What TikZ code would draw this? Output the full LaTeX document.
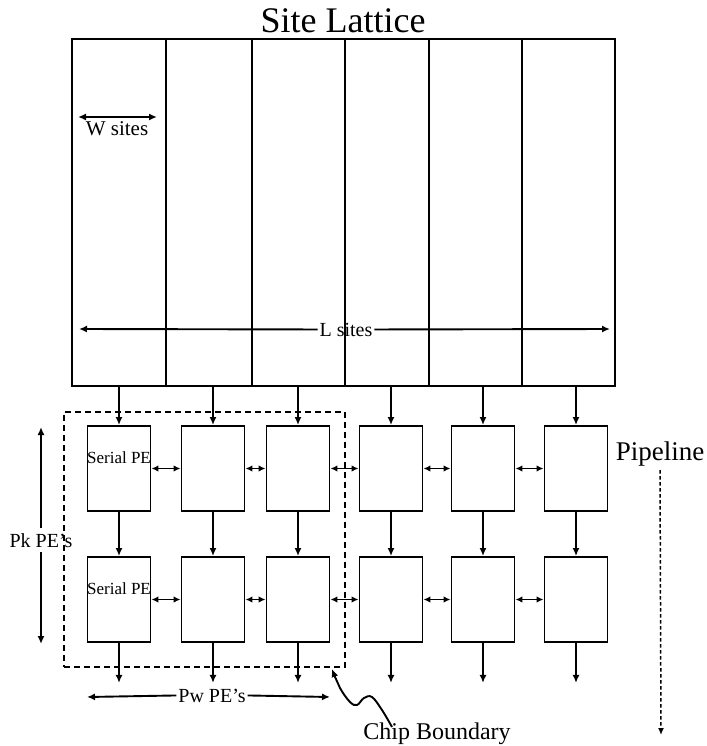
\documentclass[tikz,border=0pt]{standalone}
\usepackage{fontspec}
\setmainfont{Liberation Serif}
\usetikzlibrary{arrows.meta, positioning}

\begin{document}
\begin{tikzpicture}[x=1pt, y=-1pt, line width=1.9pt,
  >={Latex[length=8pt,width=7pt]},
  pebox/.style={draw, minimum width=63pt, minimum height=85pt, inner sep=0pt},
  lbl/.style={font=\fontsize{20}{24}\selectfont, inner xsep=1pt, inner ysep=4pt, anchor=base},
  serial/.style={font=\fontsize{17}{19}\selectfont, inner sep=0pt, anchor=base},
  chipline/.style={dash pattern=on 6pt off 4pt},
  pipeline/.style={line width=1.5pt, dash pattern=on 3.5pt off 2.5pt}
]
  \useasboundingbox (0,0) rectangle (706,746);

  % site lattice
  \node[draw, minimum width=543pt, minimum height=347pt, inner sep=0pt] (lattice) at (343.5,212.5) {};
  \foreach \x in {166,252,345,429,522}
    \draw (\x,39) -- (\x,386);
  \node[font=\fontsize{36}{42}\selectfont, anchor=base] (title) at (343,33) {Site Lattice};

  % W sites / L sites
  \coordinate (w-left) at (78,117);
  \coordinate (w-right) at (157,117);
  \draw[<->] (w-left) -- (w-right);
  \node[lbl, font=\fontsize{21}{24}\selectfont] (wsites) at (117,136) {W sites};
  \node[lbl] (lsites) at (346,336) {L sites};
  \coordinate (l-left) at (79,329);
  \coordinate (l-right) at (610,329);
  \draw[->] (lsites.west) -- (l-left);
  \draw[->] (lsites.east) -- (l-right);

  % processing elements
  \foreach \c/\x in {1/119,2/213,3/298,4/391,5/483,6/576}
    \foreach \r/\y in {1/468.5,2/599.5}
      \node[pebox] (pe-\r-\c) at (\x,\y) {};
  \node[serial] (serial-1) at (119,463) {Serial PE};
  \node[serial] (serial-2) at (119,594) {Serial PE};

  \foreach \c in {1,...,6} {
    \draw[->] (pe-1-\c.north |- lattice.south) -- (pe-1-\c.north);
    \draw[->] (pe-1-\c.south) -- (pe-2-\c.north);
    \coordinate (out-\c) at ([yshift=-40pt]pe-2-\c.south);
    \draw[->] (pe-2-\c.south) -- (out-\c);
  }
  \foreach \c [count=\n from 2] in {1,...,5}
    \foreach \r in {1,2}
      \draw[{Latex[length=7pt,width=6.5pt]}-{Latex[length=7pt,width=6.5pt]}] (pe-\r-\c.east) -- (pe-\r-\n.west);

  % chip boundary
  \node[draw, chipline, minimum width=281pt, minimum height=255pt, inner sep=0pt] (chip) at (204.5,539.5) {};
  \node[font=\fontsize{24}{28}\selectfont, anchor=base] (chiplbl) at (437,739) {Chip Boundary};
  \draw[<-] plot[smooth, tension=0.6] coordinates {(332,669) (340,688) (350,702) (357,705) (364,698) (372,697) (382,710) (392,727)};

  % Pk and Pw
  \node[lbl] (pk) at (41,547) {Pk PE's};
  \coordinate (pk-top) at (41,427);
  \coordinate (pk-bot) at (41,644);
  \draw[->] (pk.north) -- (pk-top);
  \draw[->] (pk.south) -- (pk-bot);
  \node[lbl] (pw) at (212,702) {Pw PE's};
  \coordinate (pw-left) at (87,697);
  \coordinate (pw-right) at (330,697);
  \draw[->] (pw.west) -- (pw-left);
  \draw[->] (pw.east) -- (pw-right);

  % pipeline
  \node[font=\fontsize{27}{32}\selectfont, anchor=base] (pipe) at (660,460) {Pipeline};
  \coordinate (pipe-end) at (661,735);
  \draw[pipeline, -{Latex[length=7pt,width=6pt]}] (pipe.south) -- (pipe-end);
\end{tikzpicture}
\end{document}
